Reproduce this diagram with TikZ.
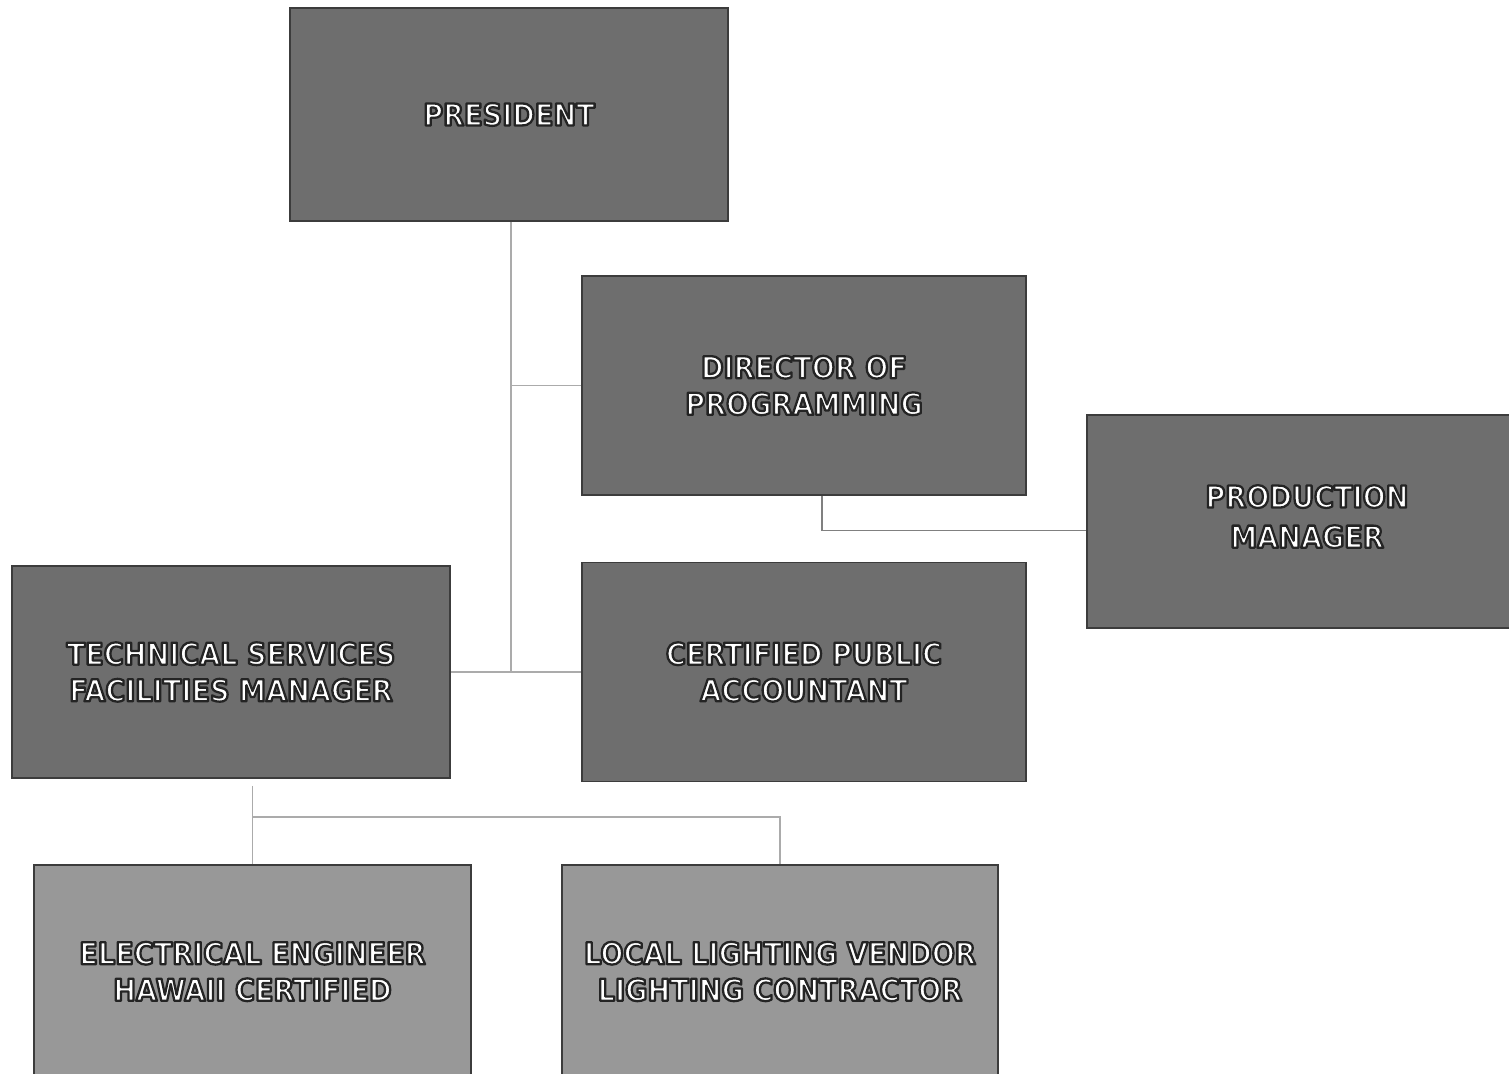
\documentclass[tikz,border=0pt]{standalone}
\usepackage{fontspec}
\setmainfont{DejaVu Sans Condensed}
\usepackage{tikz}
\usetikzlibrary{positioning, calc}
\usepackage{xcolor}
\definecolor{boxdark}{HTML}{6E6E6E}
\definecolor{boxlight}{HTML}{989898}
\definecolor{boxedge}{HTML}{3C3C3C}
\definecolor{linkgray}{HTML}{ABABAB}
% white letters with a dark rim (fill + stroke render mode)
\newcommand{\halo}[1]{\special{pdf:literal direct 2 Tr 1.3 w 1 j 0.14 0.14 0.14 RG 1 1 1 rg}#1\special{pdf:literal direct 0 Tr}}

\begin{document}
\begin{tikzpicture}[
      x=0.02cm, y=-0.02cm,
      every node/.style={font=\fontsize{17.2}{20.8}\selectfont\bfseries, text=white},
      role/.style={draw=boxedge, line width=1.1pt, fill=boxdark, align=center,
                   minimum width=8.76cm, minimum height=4.3cm, inner sep=0pt},
      staff/.style={role, fill=boxlight},
      link/.style={draw=linkgray, line width=1pt},
    ]
    \useasboundingbox (0,0) rectangle (1509,1074);
    \clip (0,0) rectangle (1509,1074);
    \fill[white] (0,0) rectangle (1509,1074);

    \node[role, minimum height=4.26cm] (pres) at (509, 114.5) {\halo{PRESIDENT}};
    \node[role, minimum width=8.88cm, minimum height=4.38cm] (dir) at (804, 385.5)
      {\halo{DIRECTOR OF\\PROGRAMMING}};
    \node[role, minimum width=8.8cm, minimum height=4.26cm] (prod) at (1307, 521.5)
      {\halo{PRODUCTION\\[2pt]MANAGER}\\[-15pt]};
    \node[role, minimum height=4.24cm] (tech) at (231, 672)
      {\halo{TECHNICAL SERVICES\\FACILITIES MANAGER}};
    \node[role, minimum width=8.88cm, minimum height=4.38cm] (cpa) at (804, 672)
      {\halo{CERTIFIED PUBLIC\\ACCOUNTANT}};
    \node[staff, minimum width=8.74cm, minimum height=4.26cm] (elec) at (252.5, 971.5)
      {\halo{ELECTRICAL ENGINEER\\HAWAII CERTIFIED}};
    \node[staff, minimum width=8.72cm, minimum height=4.26cm] (light) at (780, 971.5)
      {\halo{LOCAL LIGHTING VENDOR\\LIGHTING CONTRACTOR}};

    % reporting lines
    \coordinate (trunk) at ($(pres.south)+(2,0)$);
    \coordinate (split) at (elec.north |- 0,817);
    \draw[link] (trunk) -- (trunk |- tech.east);
    \draw[link] (trunk |- dir.west) -- (dir.west);
    \draw[link] (tech.east) -- (cpa.west);
    \draw[link, draw=gray] ($(dir.south)+(18,0)$) |- ($(prod.west)+(0,9)$);
    \draw[link] ($(elec.north |- tech.south)+(0,7)$) -- (elec.north);
    \draw[link] (split) -| (light.north);
  \end{tikzpicture}
\end{document}
